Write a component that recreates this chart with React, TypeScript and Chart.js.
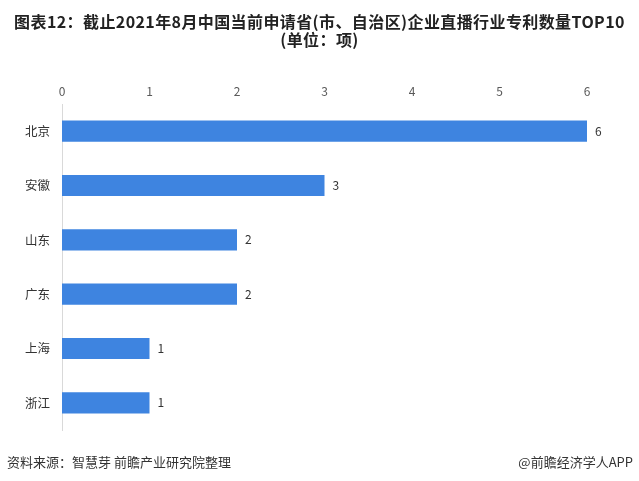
import React, { useEffect, useRef } from "react";
import { Chart, registerables } from "chart.js";

Chart.register(...registerables);

const categories = ["北京", "安徽", "山东", "广东", "上海", "浙江"];
const values = [6, 3, 2, 2, 1, 1];
const xTicks = [0, 1, 2, 3, 4, 5, 6];
const titleLines = [
  "图表12：截止2021年8月中国当前申请省(市、自治区)企业直播行业专利数量TOP10",
  "(单位：项)",
];
const sourceText = "资料来源：智慧芽 前瞻产业研究院整理";
const brandText = "@前瞻经济学人APP";

const FONT = "'Noto Sans CJK SC', 'Noto Sans', sans-serif";

export default function App() {
  const ref = useRef<HTMLCanvasElement | null>(null);

  useEffect(() => {
    if (!ref.current) return;
    const labelPlugin = {
      id: "valueLabels",
      afterDatasetsDraw(chart: any) {
        const ctx = chart.ctx;
        const meta = chart.getDatasetMeta(0);
        ctx.save();
        ctx.font = `12px ${FONT}`;
        ctx.fillStyle = "#333333";
        ctx.textBaseline = "middle";
        ctx.textAlign = "left";
        meta.data.forEach((bar: any, i: number) => {
          ctx.fillText(String(values[i]), bar.x + 8, bar.y);
        });
        ctx.restore();
      },
    };
    const chart = new Chart(ref.current, {
      type: "bar",
      data: {
        labels: categories,
        datasets: [
          {
            data: values,
            backgroundColor: "#3e84e0",
            categoryPercentage: 1,
            barPercentage: 0.39,
          },
        ],
      },
      options: {
        indexAxis: "y",
        animation: false,
        responsive: false,
        maintainAspectRatio: false,
        layout: { padding: { left: 0, right: 52, top: 72, bottom: 51 } },
        plugins: {
          legend: { display: false },
          tooltip: { enabled: false },
        },
        scales: {
          x: {
            position: "top",
            min: 0,
            max: 6,
            afterBuildTicks: (scale: any) => {
              scale.ticks = xTicks.map((v) => ({ value: v }));
            },
            afterFit: (scale: any) => {
              scale.height = 32;
            },
            grid: { display: false, drawTicks: false },
            border: { display: false },
            ticks: {
              color: "#595959",
              font: { size: 12, family: FONT },
              padding: 5,
            },
          },
          y: {
            afterFit: (scale: any) => {
              scale.width = 62;
            },
            grid: { display: false, drawTicks: false },
            border: { display: true, color: "#d9d9d9", width: 1 },
            ticks: {
              color: "#333333",
              font: { size: 12.5, family: FONT },
              padding: 12,
            },
          },
        },
      },
      plugins: [labelPlugin],
    });
    return () => chart.destroy();
  }, []);

  return (
    <div
      style={{
        position: "fixed",
        left: 0,
        top: 0,
        width: 639,
        height: 481,
        background: "#ffffff",
        overflow: "hidden",
        fontFamily: FONT,
      }}
    >
      <canvas ref={ref} width={639} height={481} style={{ position: "absolute", left: 0, top: 0 }} />
      <div
        style={{
          position: "absolute",
          left: 0,
          top: 12,
          width: 639,
          textAlign: "center",
          fontWeight: 700,
          fontSize: 16,
          lineHeight: "18px",
          color: "#222222",
          letterSpacing: 0.4,
        }}
      >
        {titleLines.map((t, i) => (
          <div key={i}>{t}</div>
        ))}
      </div>
      <div
        style={{
          position: "absolute",
          left: 7,
          top: 453,
          fontSize: 13,
          color: "#333333",
          lineHeight: "18px",
        }}
      >
        {sourceText}
      </div>
      <div
        style={{
          position: "absolute",
          right: 6,
          top: 453,
          fontSize: 13,
          color: "#333333",
          lineHeight: "18px",
        }}
      >
        {brandText}
      </div>
    </div>
  );
}
